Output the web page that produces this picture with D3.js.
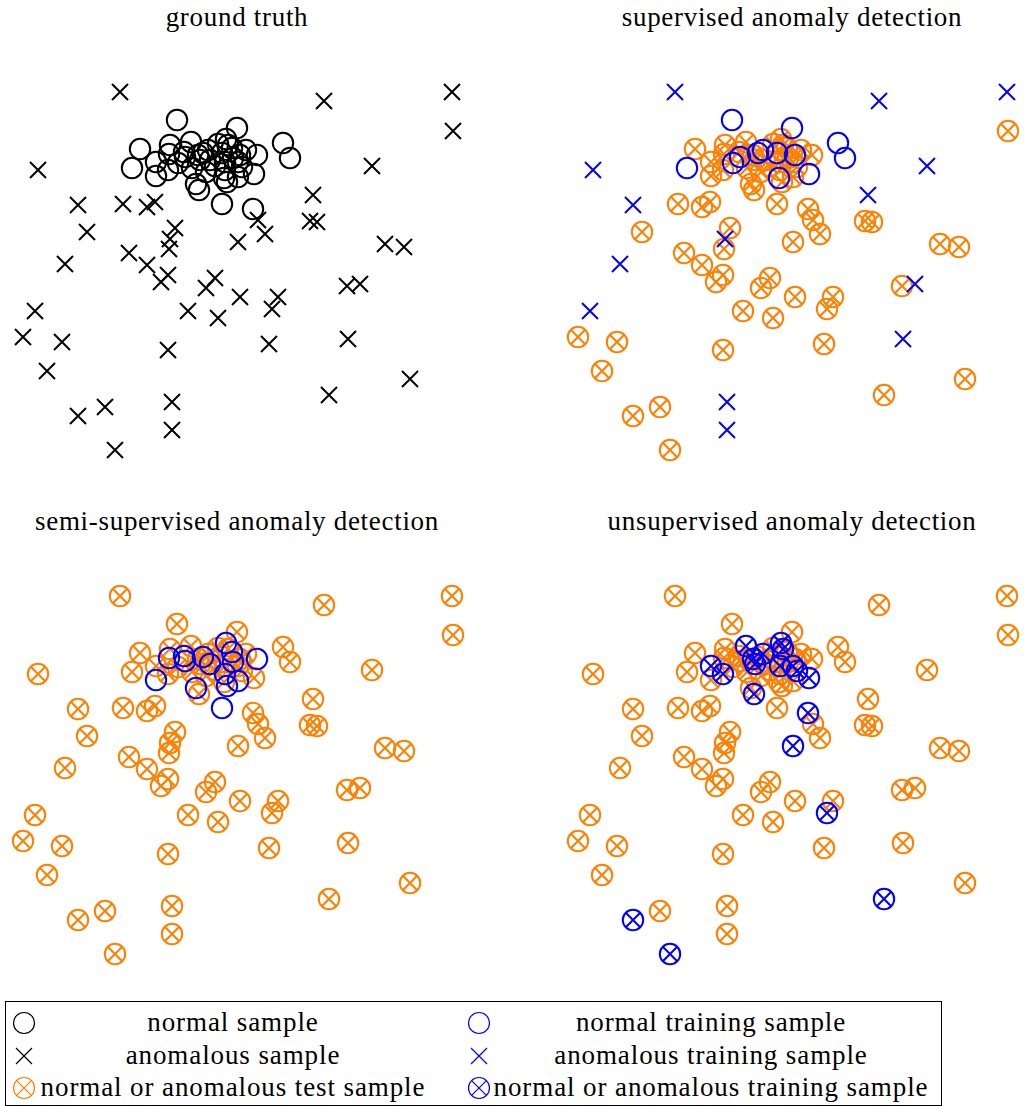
<!DOCTYPE html>
<html>
<head>
<meta charset="utf-8">
<script src="https://cdn.jsdelivr.net/npm/d3@7/dist/d3.min.js"></script>
<style>
body { margin: 0; background: #fff; }
</style>
</head>
<body>
<div id="svgcontainer"></div>
<script>
var width = 1024;
var height = 1106;
var fontFamily = "'Liberation Serif', 'DejaVu Serif', serif";

// sample positions (same for all four panels)
var normalPoints = [
  [177,120],[237,128],[283,143],[290,158],[140,149],[132,168],[156,176],[156,162],
  [169,154],[168,170],[191,142],[196,184],[222,204],[253,209],[257,155],[254,174],
  [227,182],[226,139],[199,190],[178,163],[185,157],[208,150],[203,153],[222,153],
  [240,155],[224,178],[184,152],[210,160],[232,148],[233,158],[225,170],[238,177],
  [198,155],[200,160],[228,145],[225,162],[238,162],[242,167],[215,166],[246,150],
  [218,144],[192,168],[206,172],[170,145]
];
var anomalyPoints = [
  [120,92],[324,101],[452,92],[453,131],[38,170],[372,166],[313,195],[310,221],
  [317,222],[385,244],[404,247],[347,286],[360,284],[78,205],[123,204],[147,207],
  [155,202],[87,232],[175,228],[170,239],[169,249],[65,264],[129,253],[147,265],
  [168,275],[161,282],[238,242],[258,220],[265,234],[215,278],[206,288],[240,297],
  [278,297],[272,309],[188,311],[218,318],[35,311],[23,337],[62,342],[168,350],
  [269,344],[348,339],[47,371],[410,379],[329,395],[78,416],[105,407],[172,402],
  [172,430],[115,450]
];

// indices of training samples per setting
var supervisedNormalTrain = [0,1,2,3,5,19,20,21,22,23,24,25,15];
var supervisedAnomalyTrain = [0,1,2,4,5,13,6,19,21,12,36,41,47,48];
var semiNormalTrain = [6,8,26,20,22,27,17,28,29,30,16,31,14,11,12];
var unsupNormalTrain = [7,9,10,32,33,21,17,34,35,36,37,15,18,13];
var unsupAnomalyTrain = [26,33,44,45,49];

var panelTitles = ["ground truth", "supervised anomaly detection",
  "semi-supervised anomaly detection", "unsupervised anomaly detection"];
var legendLeft = ["normal sample", "anomalous sample", "normal or anomalous test sample"];
var legendRight = ["normal training sample", "anomalous training sample", "normal or anomalous training sample"];

var orange = "#ff8000";
var blue = "#0000ff";
var circleR = 10.2;
var crossH = 8;

var svg = d3.select("#svgcontainer")
  .append("svg")
  .attr("width", width)
  .attr("height", height)
  .style("background-color", "white");

// panel offsets
var panelPos = [[0,0],[555,0],[0,504],[555,504]];

function pick(points, idx) {
  return idx.map(function(i) { return points[i]; });
}
function rest(points, idx) {
  return points.filter(function(d, i) { return idx.indexOf(i) < 0; });
}

var crossPath = "M" + (-crossH) + "," + (-crossH) + "L" + crossH + "," + crossH +
  "M" + (-crossH) + "," + crossH + "L" + crossH + "," + (-crossH);
var c45 = circleR * Math.SQRT1_2;
var innerCross = "M" + (-c45) + "," + (-c45) + "L" + c45 + "," + c45 +
  "M" + (-c45) + "," + c45 + "L" + c45 + "," + (-c45);

function drawMarks(g, pts, kind, color, x, y) {
  var m = g.append("g").selectAll("g")
    .data(pts)
    .enter().append("g")
    .attr("transform", function(d) { return "translate(" + x(d[0]) + "," + y(d[1]) + ")"; })
    .style("fill", "none")
    .style("stroke", color)
    .style("stroke-width", 2);
  if (kind == "circle" || kind == "circlecross") {
    m.append("circle").attr("r", circleR);
  }
  if (kind == "cross") {
    m.append("path").attr("d", crossPath);
  }
  if (kind == "circlecross") {
    m.append("path").attr("d", innerCross);
  }
}

function addText(g, tx, ty, label, size, spacing) {
  g.append("text")
    .attr("x", tx)
    .attr("y", ty)
    .attr("text-anchor", "middle")
    .style("font-family", fontFamily)
    .style("font-size", size + "px")
    .style("letter-spacing", spacing + "px")
    .style("fill", "black")
    .text(label);
}

panelPos.forEach(function(p, k) {
  var x = d3.scaleLinear().domain([0, 474]).range([p[0], p[0] + 474]);
  var y = d3.scaleLinear().domain([0, 480]).range([p[1], p[1] + 480]);
  var g = svg.append("g");

  addText(g, x(237), p[1] + 26, panelTitles[k], 27, 0.7);

  if (k == 0) {
    drawMarks(g, normalPoints, "circle", "black", x, y);
    drawMarks(g, anomalyPoints, "cross", "black", x, y);
  } else if (k == 1) {
    var test = rest(normalPoints, supervisedNormalTrain).concat(rest(anomalyPoints, supervisedAnomalyTrain));
    drawMarks(g, test, "circlecross", orange, x, y);
    drawMarks(g, pick(normalPoints, supervisedNormalTrain), "circle", blue, x, y);
    drawMarks(g, pick(anomalyPoints, supervisedAnomalyTrain), "cross", blue, x, y);
  } else if (k == 2) {
    var test2 = rest(normalPoints, semiNormalTrain).concat(anomalyPoints);
    drawMarks(g, test2, "circlecross", orange, x, y);
    drawMarks(g, pick(normalPoints, semiNormalTrain), "circle", blue, x, y);
  } else {
    var test3 = rest(normalPoints, unsupNormalTrain).concat(rest(anomalyPoints, unsupAnomalyTrain));
    drawMarks(g, test3, "circlecross", orange, x, y);
    var train3 = pick(normalPoints, unsupNormalTrain).concat(pick(anomalyPoints, unsupAnomalyTrain));
    drawMarks(g, train3, "circlecross", blue, x, y);
  }
});

// legend
var legend = svg.append("g");
legend.append("rect")
  .attr("x", 5.5)
  .attr("y", 1001.5)
  .attr("width", 936)
  .attr("height", 104)
  .style("fill", "none")
  .style("stroke", "black")
  .style("stroke-width", 1);

var rowY = [1023, 1056, 1088];
var legendMarks = [["circle","black"],["cross","black"],["circlecross",orange]];
var legendMarks2 = [["circle",blue],["cross",blue],["circlecross",blue]];

function legendMark(mx, my, kind, color) {
  var m = legend.append("g")
    .attr("transform", "translate(" + mx + "," + my + ")")
    .style("fill", "none")
    .style("stroke", color)
    .style("stroke-width", 1.2);
  if (kind != "cross") m.append("circle").attr("r", 10.5);
  if (kind == "cross") m.append("path").attr("d", "M-8,-8L8,8M-8,8L8,-8");
  if (kind == "circlecross") m.append("path").attr("d", "M-7.4,-7.4L7.4,7.4M-7.4,7.4L7.4,-7.4");
}

rowY.forEach(function(ry, i) {
  legendMark(24, ry, legendMarks[i][0], legendMarks[i][1]);
  legendMark(479, ry, legendMarks2[i][0], legendMarks2[i][1]);
  addText(legend, 233, ry + 8, legendLeft[i], 27, 0.9);
  addText(legend, 711, ry + 8, legendRight[i], 27, 0.9);
});
</script>
</body>
</html>
